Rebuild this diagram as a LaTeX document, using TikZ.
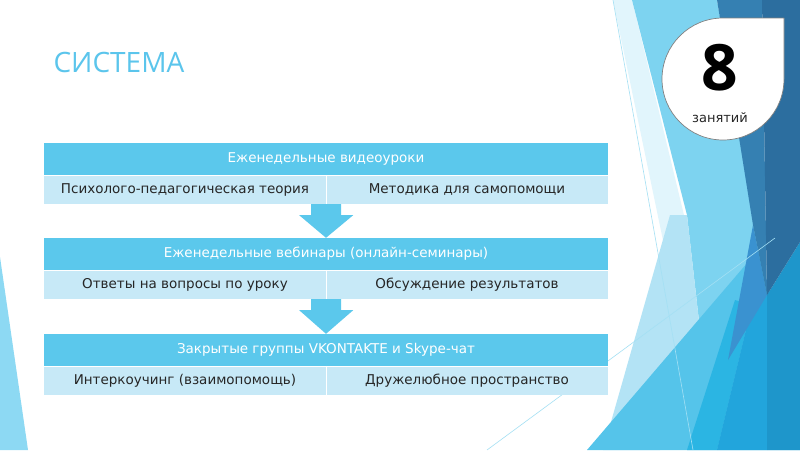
\documentclass[tikz,border=0pt]{standalone}
\usepackage{fontspec}
\setmainfont{DejaVu Sans}
\newfontfamily\titlefont{Open Sans}
\usetikzlibrary{calc}
\definecolor{skyhead}{HTML}{5BC8EC}
\definecolor{skycell}{HTML}{C7E9F7}
\definecolor{titleblue}{HTML}{5BC5EC}
\definecolor{celltext}{HTML}{262626}
\definecolor{facetwhite}{HTML}{E1F5FC}
\definecolor{facetlight}{HTML}{7DD3F0}
\definecolor{facetsoft}{HTML}{B3E3F5}
\definecolor{facetmid}{HTML}{55C4EA}
\definecolor{facetcyan}{HTML}{2BB5E3}
\definecolor{facetblue}{HTML}{22A5DC}
\definecolor{facetdeep}{HTML}{1E96CB}
\definecolor{facetviolet}{HTML}{3A92D0}
\definecolor{facetdark}{HTML}{3580B2}
\definecolor{facetnavy}{HTML}{2C6E9F}
\definecolor{facetedge}{HTML}{8DD9F3}
\tikzset{
    headrow/.style={
        fill=skyhead, text=white, inner sep=0pt,
        minimum width=564pt, minimum height=32pt,
        font=\fontsize{13.5}{16}\selectfont
    },
    cellrow/.style={
        fill=skycell, text=celltext, inner sep=0pt,
        minimum width=282pt, minimum height=29pt,
        font=\fontsize{13.5}{16}\selectfont
    },
    facetline/.style={draw=facetlight!70, line width=0.6pt}
}

\begin{document}
\begin{tikzpicture}[x=1pt,y=-1pt, line join=round]

\useasboundingbox (0,0) rectangle (800,450);
\fill[white] (0,0) rectangle (800,450);

% facets on the right
\fill[facetedge] (0,257) -- (0,450) -- (28,450) -- cycle;
\fill[facetwhite] (613,0) -- (632,0) -- (690,240) -- (665,250) -- cycle;
\fill[facetlight] (632,0) -- (717,0) -- (767,295) -- (700,330) -- (687,215) -- cycle;
\fill[facetsoft] (670,215) -- (687,215) -- (700,330) -- (660,450) -- (603,450) -- cycle;
\fill[facetmid] (587,450) -- (760,248) -- (800,450) -- cycle;
\fill[facetcyan] (687,450) -- (735,300) -- (752,305) -- (717,450) -- cycle;
\fill[facetblue] (717,450) -- (752,305) -- (767,295) -- (767,450) -- cycle;
\fill[facetdeep] (767,450) -- (767,295) -- (800,242) -- (800,450) -- cycle;
\fill[facetviolet] (753,225) -- (767,295) -- (728,360) -- cycle;
\fill[facetdark] (717,0) -- (762,0) -- (767,295) -- (753,225) -- cycle;
\fill[facetnavy] (762,0) -- (800,0) -- (800,242) -- (767,295) -- cycle;
\draw[facetline] (613,0) -- (693,450);
\draw[facetline] (775,238) -- (487,450);

\node[text=titleblue, font=\titlefont\fontsize{28}{34}\selectfont, anchor=base west]
    (title) at (50,72) {СИСТЕМА};

% three blocks
\foreach \i/\top/\head/\lcell/\rcell in {
    1/143/{Еженедельные видеоуроки}/{Психолого-педагогическая теория}/{Методика для самопомощи},
    2/238/{Еженедельные вебинары (онлайн-семинары)}/{Ответы на вопросы по уроку}/{Обсуждение результатов},
    3/334/{Закрытые группы VKONTAKTE и Skype-чат}/{Интеркоучинг (взаимопомощь)}/{Дружелюбное пространство}} {
  \node[headrow] (h\i) at (326,\top+16) {\head};
  \node[cellrow] (l\i) at (185,\top+46.5) {\lcell};
  \node[cellrow] (r\i) at (467,\top+46.5) {\rcell};
  \draw[white, line width=0.6pt] (l\i.north west) -- (r\i.north east);
  \draw[white, line width=0.6pt] (l\i.north east) -- (l\i.south east);
}

% arrows between blocks
\foreach \i/\j in {1/2,2/3} {
  \fill[skyhead] ($(l\i.south east)+(-15,0)$) -- ($(l\i.south east)+(15,0)$)
    -- ($(l\i.south east)+(15,11)$) -- ($(l\i.south east)+(27,11)$)
    -- (h\j.north) -- ($(l\i.south east)+(-27,11)$)
    -- ($(l\i.south east)+(-15,11)$) -- cycle;
}

% badge
\draw[fill=white, draw=black!50, line width=0.7pt]
    (784,18) -- (784,79) arc[start angle=0, end angle=-270, radius=61pt] -- cycle;
\node[font=\titlefont\bfseries\fontsize{64}{64}\selectfont] (eight) at (720,68) {8};
\node[font=\fontsize{13}{16}\selectfont, text=celltext] (lessons) at (720,118) {занятий};

\end{tikzpicture}
\end{document}
